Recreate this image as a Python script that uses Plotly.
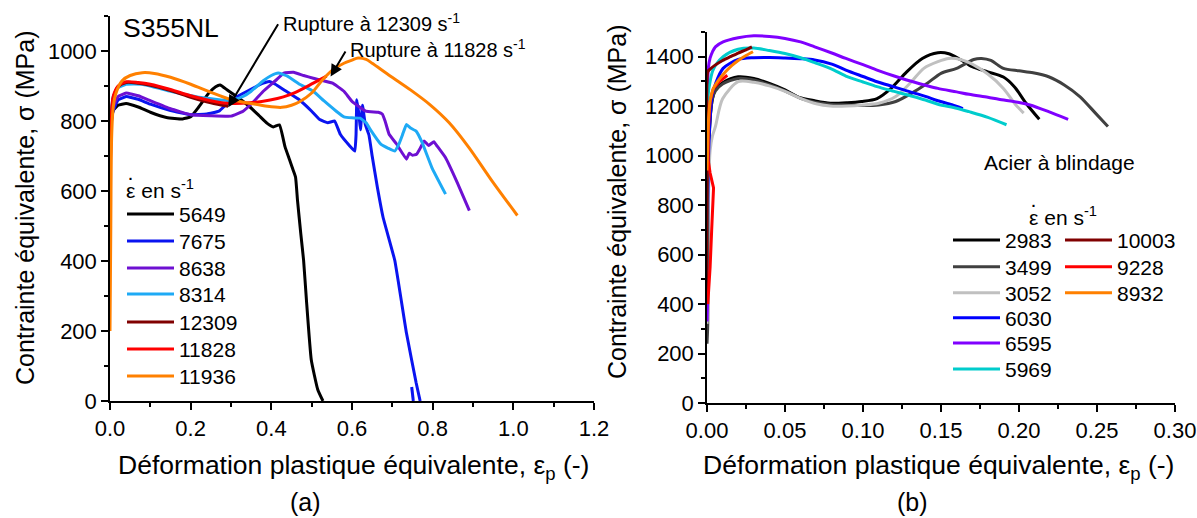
import plotly.graph_objects as go

# ---------------- Panel (a): S355NL ----------------
a_names = ["5649", "7675", "8638", "8314", "12309", "11828", "11936"]
a_colors = ["#000000", "#0A14F0", "#6E10D2", "#1EAAF5", "#800000", "#FF0000", "#FF8000"]
a_smooth = [0.4, 0.3, 0.3, 0.3, 0.8, 0.8, 0.8]

a5649_x = [0, 0.003, 0.008, 0.02, 0.04, 0.07, 0.10, 0.14, 0.18, 0.20, 0.22, 0.245, 0.262, 0.273, 0.29, 0.32, 0.347, 0.37, 0.389, 0.405, 0.42, 0.434, 0.445, 0.454, 0.46, 0.465, 0.473, 0.48, 0.487, 0.499, 0.515, 0.528]
a5649_y = [750, 800, 830, 845, 850, 840, 825, 810, 806, 812, 840, 880, 898, 903, 889, 865, 840, 815, 794, 783, 789, 726, 690, 660, 640, 572, 478, 402, 289, 118, 33, 0]

a7675_x = [0, 0.003, 0.008, 0.02, 0.04, 0.07, 0.10, 0.15, 0.20, 0.24, 0.27, 0.30, 0.34, 0.38, 0.395, 0.41, 0.43, 0.47, 0.50, 0.52, 0.54, 0.557, 0.571, 0.595, 0.607, 0.610, 0.612, 0.617, 0.621, 0.626, 0.633, 0.642, 0.650, 0.663, 0.677, 0.706, 0.735, 0.759, 0.769, None, 0.748, 0.752]
a7675_y = [700, 790, 830, 860, 870, 862, 848, 830, 818, 820, 828, 860, 885, 908, 913, 905, 890, 860, 828, 804, 795, 800, 762, 728, 714, 760, 861, 820, 775, 845, 790, 760, 700, 610, 525, 402, 194, 52, 0, None, 40, 0]

a8638_x = [0, 0.003, 0.008, 0.02, 0.04, 0.07, 0.10, 0.15, 0.20, 0.25, 0.30, 0.33, 0.36, 0.38, 0.41, 0.431, 0.455, 0.48, 0.504, 0.552, 0.58, 0.60, 0.634, 0.665, 0.675, 0.682, 0.692, 0.71, 0.735, 0.742, 0.75, 0.76, 0.768, 0.779, 0.79, 0.803, 0.81, 0.832, 0.861, 0.891]
a8638_y = [600, 790, 840, 870, 880, 872, 858, 835, 818, 815, 814, 828, 860, 885, 915, 937, 939, 930, 922, 908, 885, 856, 828, 825, 820, 800, 762, 735, 691, 708, 702, 705, 720, 743, 730, 741, 730, 695, 624, 544]

a8314_x = [0, 0.003, 0.008, 0.02, 0.04, 0.08, 0.15, 0.22, 0.30, 0.33, 0.35, 0.38, 0.40, 0.417, 0.44, 0.47, 0.504, 0.53, 0.561, 0.58, 0.60, 0.62, 0.635, 0.648, 0.672, 0.69, 0.706, 0.716, 0.725, 0.735, 0.745, 0.759, 0.774, 0.798, 0.832]
a8314_y = [650, 820, 870, 895, 905, 905, 885, 868, 858, 870, 885, 915, 930, 937, 928, 905, 885, 858, 828, 812, 809, 808, 795, 771, 733, 722, 714, 733, 760, 790, 780, 771, 738, 667, 591]

a12309_x = [0, 0.003, 0.008, 0.02, 0.04, 0.07, 0.10, 0.15, 0.20, 0.25, 0.293]
a12309_y = [400, 790, 865, 898, 910, 908, 902, 887, 868, 852, 842]

a11828_x = [0, 0.003, 0.008, 0.02, 0.04, 0.07, 0.10, 0.15, 0.20, 0.25, 0.29, 0.347, 0.397, 0.43, 0.46, 0.504, 0.537]
a11828_y = [450, 800, 870, 900, 912, 910, 905, 890, 872, 858, 851, 852, 860, 869, 882, 908, 928]

a11936_x = [0, 0.002, 0.004, 0.008, 0.015, 0.03, 0.05, 0.08, 0.11, 0.15, 0.20, 0.25, 0.30, 0.35, 0.39, 0.426, 0.45, 0.47, 0.50, 0.525, 0.552, 0.58, 0.60, 0.615, 0.635, 0.65, 0.687, 0.745, 0.793, 0.841, 0.89, 0.947, 1.01]
a11936_y = [200, 500, 750, 840, 880, 915, 930, 938, 936, 925, 905, 882, 861, 850, 842, 839, 845, 855, 880, 915, 946, 965, 974, 980, 976, 965, 935, 889, 847, 795, 724, 629, 530]

a_xs = [a5649_x, a7675_x, a8638_x, a8314_x, a12309_x, a11828_x, a11936_x]
a_ys = [a5649_y, a7675_y, a8638_y, a8314_y, a12309_y, a11828_y, a11936_y]

# ---------------- Panel (b): Acier à blindage ----------------
b_names = ["2983", "3499", "3052", "6030", "6595", "5969", "10003", "9228", "8932"]
b_colors = ["#000000", "#404040", "#C0C0C0", "#0000FF", "#8000FF", "#00CCCC", "#800000", "#FF0000", "#FF8000"]
b_smooth = [0.8, 0.8, 0.8, 0.8, 0.8, 0.8, 0.6, 0.0, 0.6]

b2983_x = [0, 0.0005, 0.001, 0.002, 0.0035, 0.0054, 0.01, 0.02, 0.03, 0.04, 0.05, 0.059, 0.069, 0.079, 0.09, 0.099, 0.109, 0.118, 0.128, 0.138, 0.148, 0.155, 0.162, 0.17, 0.18, 0.19, 0.197, 0.2045, 0.213]
b2983_y = [400, 700, 1000, 1150, 1230, 1270, 1295, 1319, 1312, 1292, 1266, 1236, 1222, 1212, 1214, 1219, 1231, 1272, 1339, 1393, 1416, 1412, 1390, 1360, 1339, 1318, 1279, 1212, 1147]

b3499_x = [0, 0.0005, 0.001, 0.002, 0.0035, 0.0054, 0.01, 0.02, 0.03, 0.04, 0.05, 0.06, 0.07, 0.08, 0.09, 0.10, 0.11, 0.121, 0.131, 0.141, 0.15, 0.16, 0.171, 0.176, 0.182, 0.19, 0.20, 0.209, 0.219, 0.229, 0.239, 0.249, 0.257]
b3499_y = [240, 320, 900, 1150, 1230, 1262, 1290, 1312, 1306, 1287, 1262, 1232, 1215, 1207, 1205, 1203, 1205, 1219, 1252, 1292, 1333, 1353, 1389, 1393, 1385, 1353, 1343, 1335, 1319, 1286, 1239, 1172, 1118]

b3052_x = [0, 0.0005, 0.001, 0.002, 0.0035, 0.0054, 0.01, 0.02, 0.03, 0.04, 0.05, 0.06, 0.07, 0.079, 0.09, 0.10, 0.11, 0.121, 0.13, 0.139, 0.148, 0.155, 0.163, 0.17, 0.18, 0.19, 0.198, 0.203]
b3052_y = [320, 400, 850, 1020, 1080, 1118, 1230, 1299, 1297, 1282, 1260, 1232, 1210, 1201, 1201, 1205, 1212, 1239, 1292, 1353, 1380, 1393, 1388, 1370, 1330, 1272, 1205, 1172]

b6030_x = [0, 0.0005, 0.001, 0.002, 0.0035, 0.0054, 0.0103, 0.02, 0.03, 0.04, 0.05, 0.06, 0.069, 0.08, 0.089, 0.10, 0.109, 0.12, 0.128, 0.14, 0.148, 0.157, 0.164]
b6030_y = [400, 800, 1000, 1150, 1250, 1290, 1353, 1389, 1396, 1397, 1395, 1392, 1387, 1370, 1346, 1320, 1299, 1278, 1262, 1240, 1222, 1206, 1190]

b6595_x = [0, 0.0003, 0.0008, 0.002, 0.0035, 0.0054, 0.0103, 0.02, 0.03, 0.04, 0.05, 0.06, 0.069, 0.08, 0.089, 0.10, 0.109, 0.12, 0.128, 0.14, 0.148, 0.16, 0.168, 0.18, 0.187, 0.20, 0.207, 0.219, 0.2315]
b6595_y = [330, 400, 1350, 1395, 1420, 1440, 1460, 1477, 1485, 1482, 1474, 1460, 1440, 1415, 1393, 1368, 1346, 1322, 1306, 1285, 1272, 1258, 1248, 1236, 1228, 1215, 1205, 1178, 1147]

b5969_x = [0, 0.0003, 0.0008, 0.002, 0.0035, 0.0054, 0.0103, 0.02, 0.03, 0.04, 0.05, 0.06, 0.069, 0.08, 0.089, 0.10, 0.109, 0.12, 0.13, 0.14, 0.148, 0.16, 0.168, 0.18, 0.192]
b5969_y = [400, 600, 1250, 1300, 1340, 1365, 1400, 1430, 1435, 1425, 1413, 1396, 1376, 1350, 1322, 1298, 1279, 1260, 1243, 1225, 1208, 1192, 1178, 1155, 1125]

b10003_x = [0, 0.0002, 0.0005, 0.002, 0.005, 0.01, 0.015, 0.02, 0.025, 0.0288]
b10003_y = [400, 900, 1340, 1350, 1365, 1385, 1400, 1415, 1428, 1440]

b9228_x = [0.0005, 0.002, 0.003, 0.004, 0.0042, 0.002, 0.0008, 0.0008, 0.002, 0.004, 0.008, 0.013]
b9228_y = [400, 550, 700, 830, 870, 930, 980, 1100, 1220, 1270, 1300, 1325]

b8932_x = [0, 0.0003, 0.001, 0.002, 0.004, 0.008, 0.012, 0.016, 0.02, 0.025, 0.0295]
b8932_y = [940, 1000, 1150, 1220, 1270, 1310, 1340, 1365, 1385, 1405, 1420]

b_xs = [b2983_x, b3499_x, b3052_x, b6030_x, b6595_x, b5969_x, b10003_x, b9228_x, b8932_x]
b_ys = [b2983_y, b3499_y, b3052_y, b6030_y, b6595_y, b5969_y, b10003_y, b9228_y, b8932_y]

# Axis tick settings
a_xticks = [0.0, 0.2, 0.4, 0.6, 0.8, 1.0, 1.2]
a_yticks = [0, 200, 400, 600, 800, 1000]
b_xticks = [0.00, 0.05, 0.10, 0.15, 0.20, 0.25, 0.30]
b_yticks = [0, 200, 400, 600, 800, 1000, 1200, 1400]

FONT = "Liberation Sans, Arial, sans-serif"
W, H = 1197, 518

def px_x(p):
    return p / W

def px_y(p):
    return 1 - p / H

# legend placement (pixel centres of each legend row / text start)
a_leg_rows = [214, 241, 268, 294, 322, 349, 376]
a_leg_text_x = 179
b_leg_rows = [240, 266.7, 292.7, 317.7, 343, 369, 240, 266.7, 292.7]
b_leg_text_x = [1005] * 6 + [1117] * 3
A_LEG_FS, B_LEG_FS = 21, 21
ITEMW = 47

fig = go.Figure()
legends = {}
k = 1

def add_legend(key, text_x, row_y, fs):
    h = 1.3 * fs + 3
    top = row_y - (h / 2 + 5)
    legends[key] = dict(x=px_x(text_x - (ITEMW + 10)), y=px_y(top), xanchor="left", yanchor="top",
                        bgcolor="rgba(0,0,0,0)", borderwidth=0, itemwidth=ITEMW,
                        font=dict(family=FONT, size=fs, color="black"))

def line_style(col, sm):
    if sm > 0:
        return dict(color=col, width=3, shape="spline", smoothing=sm)
    return dict(color=col, width=3)

for i, (name, col, xs, ys) in enumerate(zip(a_names, a_colors, a_xs, a_ys)):
    key = "legend" if k == 1 else f"legend{k}"
    fig.add_trace(go.Scatter(x=xs, y=ys, mode="lines", name=name,
                             line=line_style(col, a_smooth[i]), xaxis="x", yaxis="y",
                             legend=key))
    add_legend(key, a_leg_text_x, a_leg_rows[i], A_LEG_FS)
    k += 1

for i, (name, col, xs, ys) in enumerate(zip(b_names, b_colors, b_xs, b_ys)):
    key = f"legend{k}"
    fig.add_trace(go.Scatter(x=xs, y=ys, mode="lines", name=name,
                             line=line_style(col, b_smooth[i]), xaxis="x2", yaxis="y2",
                             legend=key))
    add_legend(key, b_leg_text_x[i], b_leg_rows[i], B_LEG_FS)
    k += 1

axis_common = dict(showline=True, linecolor="black", linewidth=1.5, ticks="outside",
                   ticklen=7, tickwidth=1.5, tickcolor="black", showgrid=False, zeroline=False,
                   tickfont=dict(family=FONT, size=22, color="black"), mirror=False,
                   automargin=False)
minor_common = dict(ticks="outside", ticklen=4, tickwidth=1.5, tickcolor="black")

fig.update_layout(
    width=W, height=H,
    margin=dict(l=0, r=0, t=0, b=0, pad=0),
    paper_bgcolor="white", plot_bgcolor="white",
    font=dict(family=FONT, color="black"),
    xaxis=dict(domain=[px_x(110), px_x(594)], range=[0, 1.2], tickvals=a_xticks,
               tickformat=".1f", anchor="y", minor=dict(dtick=0.1, tick0=0, **minor_common),
               **axis_common),
    yaxis=dict(domain=[px_y(401), px_y(16)], range=[0, 1100], tickvals=a_yticks, anchor="x",
               minor=dict(dtick=100, tick0=0, **minor_common), **axis_common),
    xaxis2=dict(domain=[px_x(707), px_x(1175)], range=[0, 0.30], tickvals=b_xticks,
                tickformat=".2f", anchor="y2", minor=dict(dtick=0.025, tick0=0, **minor_common),
                **axis_common),
    yaxis2=dict(domain=[px_y(403), px_y(32)], range=[0, 1500], tickvals=b_yticks, anchor="x2",
                minor=dict(dtick=100, tick0=0, **minor_common), **axis_common),
    showlegend=True,
    **legends,
)

ann = []
def text_ann(text, x, y, size, angle=0, xanchor="center"):
    ann.append(dict(text=text, x=px_x(x), y=px_y(y), xref="paper", yref="paper",
                    showarrow=False, textangle=angle, xanchor=xanchor, yanchor="middle",
                    font=dict(family=FONT, size=size, color="black")))

# axis titles
text_ann("Contrainte équivalente, σ (MPa)", 25, 208, 25, angle=-90)
text_ann("Contrainte équivalente, σ (MPa)", 617, 202, 25, angle=-90)
text_ann("Déformation plastique équivalente, ε<sub>p</sub> (-)", 353, 467, 26.5)
text_ann("Déformation plastique équivalente, ε<sub>p</sub> (-)", 938, 467, 26.5)
text_ann("(a)", 305, 502, 25)
text_ann("(b)", 912, 502, 25)
# panel labels
text_ann("S355NL", 121, 28, 26.5, xanchor="left")
text_ann("Acier à blindage", 982, 162, 21, xanchor="left")
text_ann("Rupture à 12309 s<sup>-1</sup>", 281, 22, 20, xanchor="left")
text_ann("Rupture à 11828 s<sup>-1</sup>", 348, 48, 20, xanchor="left")
# legend titles (strain rate with dot above epsilon)
text_ann("ε en s<sup>-1</sup>", 124, 189, 21, xanchor="left")
text_ann("·", 130, 176, 21, xanchor="center")
text_ann("ε en s<sup>-1</sup>", 1027, 216, 21, xanchor="left")
text_ann("·", 1033, 203, 21, xanchor="center")

# rupture arrows (data coords)
ann.append(dict(x=0.293, y=839, ax=0.419, ay=1081, xref="x", yref="y", axref="x", ayref="y",
                text="", showarrow=True, arrowhead=2, arrowsize=1.2, arrowwidth=2, arrowcolor="black"))
ann.append(dict(x=0.547, y=927, ax=0.586, ay=1003, xref="x", yref="y", axref="x", ayref="y",
                text="", showarrow=True, arrowhead=2, arrowsize=1.2, arrowwidth=2, arrowcolor="black"))

fig.update_layout(annotations=ann)

fig.write_html("out.html", config={"displayModeBar": False},
               post_script="document.body.style.margin='0px';document.body.style.overflow='hidden';")
